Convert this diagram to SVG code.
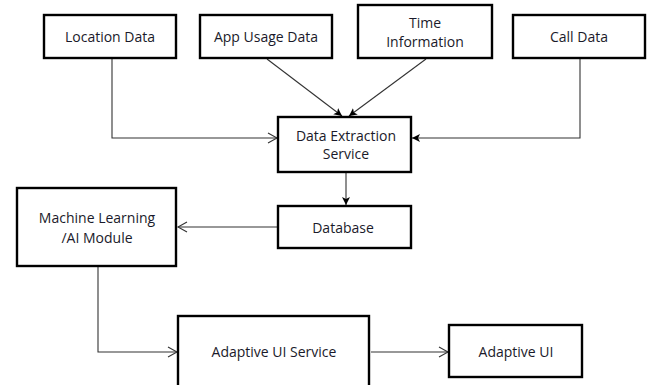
<svg xmlns="http://www.w3.org/2000/svg" width="652" height="385" viewBox="0 0 652 385">
  <style>
    .box { fill: #ffffff; stroke: #000000; stroke-width: 2.4; }
    .label { font-family: "Open Sans", "Liberation Sans", sans-serif; font-size: 14px; fill: #1a1a2a; text-anchor: middle; dominant-baseline: central; }
    .wire { fill: none; stroke: #333333; stroke-width: 1.1; }
  </style>
  <defs>
    <marker id="open" markerWidth="12" markerHeight="12" refX="10" refY="6" orient="auto" markerUnits="userSpaceOnUse">
      <path d="M1,1 L10,6 L1,11" fill="none" stroke="#333333" stroke-width="1.1"/>
    </marker>
    <marker id="solid" markerWidth="10" markerHeight="10" refX="8" refY="5" orient="auto" markerUnits="userSpaceOnUse">
      <path d="M0,1 L8,5 L0,9 L2,5 Z" fill="#000000"/>
    </marker>
  </defs>
  <rect width="652" height="385" fill="#ffffff"/>

  <g id="connectors">
    <polyline class="wire" points="112,59 112,138 277,138" marker-end="url(#open)"/>
    <line class="wire" x1="267" y1="59" x2="342" y2="116" marker-end="url(#solid)"/>
    <line class="wire" x1="426" y1="59" x2="349" y2="116" marker-end="url(#solid)"/>
    <polyline class="wire" points="580,59 580,138 412,138" marker-end="url(#solid)"/>
    <line class="wire" x1="346" y1="152" x2="346" y2="205" marker-end="url(#solid)"/>
    <line class="wire" x1="278" y1="227" x2="178" y2="227" marker-end="url(#open)"/>
    <polyline class="wire" points="98,267 98,352 177,352" marker-end="url(#open)"/>
    <line class="wire" x1="371" y1="352" x2="448" y2="352" marker-end="url(#open)"/>
  </g>

  <g id="location-data">
    <rect class="box" x="44" y="15" width="132" height="43"/>
    <text class="label" x="110" y="36">Location Data</text>
  </g>
  <g id="app-usage-data">
    <rect class="box" x="200" y="15" width="132" height="43"/>
    <text class="label" x="266" y="36">App Usage Data</text>
  </g>
  <g id="time-information">
    <rect class="box" x="358" y="5" width="134" height="53"/>
    <text class="label" x="425" y="22">Time</text>
    <text class="label" x="425" y="41">Information</text>
  </g>
  <g id="call-data">
    <rect class="box" x="513" y="15" width="132" height="43"/>
    <text class="label" x="579" y="36">Call Data</text>
  </g>
  <g id="data-extraction-service">
    <rect class="box" x="278" y="117" width="133" height="55"/>
    <text class="label" x="346" y="135">Data Extraction</text>
    <text class="label" x="346" y="153">Service</text>
  </g>
  <g id="database">
    <rect class="box" x="278" y="206" width="133" height="42"/>
    <text class="label" x="343" y="227">Database</text>
  </g>
  <g id="ml-ai-module">
    <rect class="box" x="17" y="188" width="159" height="78"/>
    <text class="label" x="97" y="217">Machine Learning</text>
    <text class="label" x="97" y="237">/AI Module</text>
  </g>
  <g id="adaptive-ui-service">
    <rect class="box" x="178" y="316" width="191" height="72"/>
    <text class="label" x="274" y="351">Adaptive UI Service</text>
  </g>
  <g id="adaptive-ui">
    <rect class="box" x="449" y="325" width="133" height="52"/>
    <text class="label" x="516" y="351">Adaptive UI</text>
  </g>
</svg>
